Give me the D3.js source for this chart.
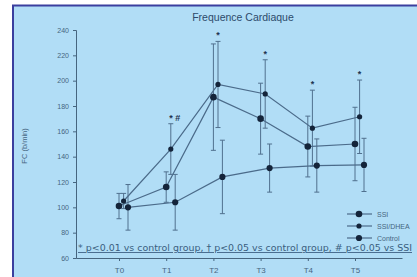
<!DOCTYPE html>
<html><head><meta charset="utf-8">
<script src="https://cdn.jsdelivr.net/npm/d3@7"></script>
<style>body{margin:0;background:#fff;}svg{display:block;font-family:Arial,"Liberation Sans",sans-serif;}</style>
</head><body>
<script>
const categories = ["T0","T1","T2","T3","T4","T5"];
const seriesNames = ["SSI","SSI/DHEA","Control"];
const ssiMean   = [101, 116, 187, 170, 148, 150];
const ssiErr    = [10, 12, 42, 28, 24, 29];
const dheaMean  = [105, 146, 197, 189.5, 162.5, 171.5];
const dheaErr   = [6, 20, 34, 27, 30, 29];
const ctrlMean  = [100, 104, 124, 131, 133, 133.5];
const ctrlErr   = [18, 22, 29, 19, 21, 21];
const yTicks = [60, 80, 100, 120, 140, 160, 180, 200, 220, 240];
const sigMarks = ["", "* #", "*", "*", "*", "*"];
const title = "Frequence Cardiaque";
const yLabel = "FC (b/min)";
const footnote = "* p<0.01 vs control group, \u2020 p<0.05 vs control group, # p<0.05 vs SSI";

const W = 417, H = 277;
const svg = d3.select("body").append("svg").attr("width", W).attr("height", H);
// frame
svg.append("rect").attr("x", 13).attr("y", 5.5).attr("width", 420).attr("height", 290)
  .attr("fill", "#b1ddf6").attr("stroke", "#3b3f9e").attr("stroke-width", 2);

const axisCol = "#46657f";
const x = d3.scalePoint().domain(categories).range([119, 355]);
const y = d3.scaleLinear().domain([60, 240]).range([258, 30]);

// axes
const yAxis = svg.append("g").attr("transform", "translate(76,0)")
  .call(d3.axisLeft(y).tickValues(yTicks).tickSize(3).tickPadding(4));
yAxis.select(".domain").attr("stroke", axisCol);
yAxis.selectAll("line").attr("stroke", axisCol);
yAxis.selectAll("text").attr("fill", axisCol).attr("font-size", 7).attr("font-family", "Arial");

const xAxis = svg.append("g").attr("transform", "translate(0,258)")
  .call(d3.axisBottom(d3.scaleLinear().domain([0,1]).range([76, 402])).ticks(0).tickSize(0));
xAxis.select(".domain").attr("stroke", axisCol);
const xt = svg.append("g").attr("transform", "translate(0,258)")
  .call(d3.axisBottom(x).tickSize(3).tickPadding(6));
xt.select(".domain").remove();
xt.selectAll("line").attr("stroke", axisCol);
xt.selectAll("text").attr("fill", axisCol).attr("font-size", 8).attr("font-family", "Arial");

// title and labels
svg.append("text").attr("x", 243).attr("y", 21).attr("text-anchor", "middle")
  .attr("font-size", 10.5).attr("fill", "#2c4a6a").text(title);
svg.append("text").attr("transform", "translate(27,146) rotate(-90)").attr("text-anchor", "middle")
  .attr("font-size", 7.5).attr("fill", axisCol).text(yLabel);

// footnote
svg.append("text").attr("x", 78).attr("y", 251).attr("font-size", 8.6)
  .attr("font-family", "'DejaVu Sans', Verdana, sans-serif").attr("fill", "#3a5d80")
  .attr("textLength", 334).attr("lengthAdjust", "spacingAndGlyphs")
  .attr("text-decoration", "underline").text(footnote);

const series = [
  {name: seriesNames[0], mean: ssiMean, err: ssiErr, dx: 0, r: 3.3},
  {name: seriesNames[1], mean: dheaMean, err: dheaErr, dx: 4.6, r: 2.6},
  {name: seriesNames[2], mean: ctrlMean, err: ctrlErr, dx: 9, r: 3.1}
];
const lineCol = "#4b6b8a", dotCol = "#14243a", errCol = "#50708e";

series.forEach(s => {
  const pts = categories.map((c, i) => ({cx: x(c) + s.dx, v: s.mean[i], e: s.err[i]}));
  const g = svg.append("g");
  g.selectAll(".eb").data(pts).enter().append("line")
    .attr("x1", d => d.cx).attr("x2", d => d.cx)
    .attr("y1", d => y(d.v - d.e)).attr("y2", d => y(d.v + d.e))
    .attr("stroke", errCol).attr("stroke-width", 1);
  ["lo","hi"].forEach(k => {
    g.selectAll(".cap" + k).data(pts).enter().append("line")
      .attr("x1", d => d.cx - 2.5).attr("x2", d => d.cx + 2.5)
      .attr("y1", d => y(k === "lo" ? d.v - d.e : d.v + d.e))
      .attr("y2", d => y(k === "lo" ? d.v - d.e : d.v + d.e))
      .attr("stroke", errCol).attr("stroke-width", 1);
  });
  g.append("path").datum(pts)
    .attr("d", d3.line().x(d => d.cx).y(d => y(d.v)))
    .attr("fill", "none").attr("stroke", lineCol).attr("stroke-width", 1.2);
  g.selectAll("circle").data(pts).enter().append("circle")
    .attr("cx", d => d.cx).attr("cy", d => y(d.v)).attr("r", s.r).attr("fill", dotCol);
});

// significance marks above SSI/DHEA error bars
svg.append("g").selectAll("text").data(categories).enter().append("text")
  .attr("x", (c, i) => x(c) + 4.6 + (i === 1 ? 4 : 0))
  .attr("y", (c, i) => y(dheaMean[i] + dheaErr[i]) - 3)
  .attr("text-anchor", "middle").attr("font-size", 9).attr("font-weight", "bold")
  .attr("fill", "#1e3350").text((c, i) => sigMarks[i]);

// legend
const lg = svg.append("g");
seriesNames.forEach((n, i) => {
  const yy = 214 + i * 12;
  lg.append("line").attr("x1", 347).attr("x2", 372).attr("y1", yy).attr("y2", yy)
    .attr("stroke", lineCol).attr("stroke-width", 1.2);
  lg.append("circle").attr("cx", 359).attr("cy", yy).attr("r", series[i].r).attr("fill", dotCol);
  lg.append("text").attr("x", 377).attr("y", yy + 2.5).attr("font-size", 7)
    .attr("fill", axisCol).text(n);
});
</script>
</body></html>
